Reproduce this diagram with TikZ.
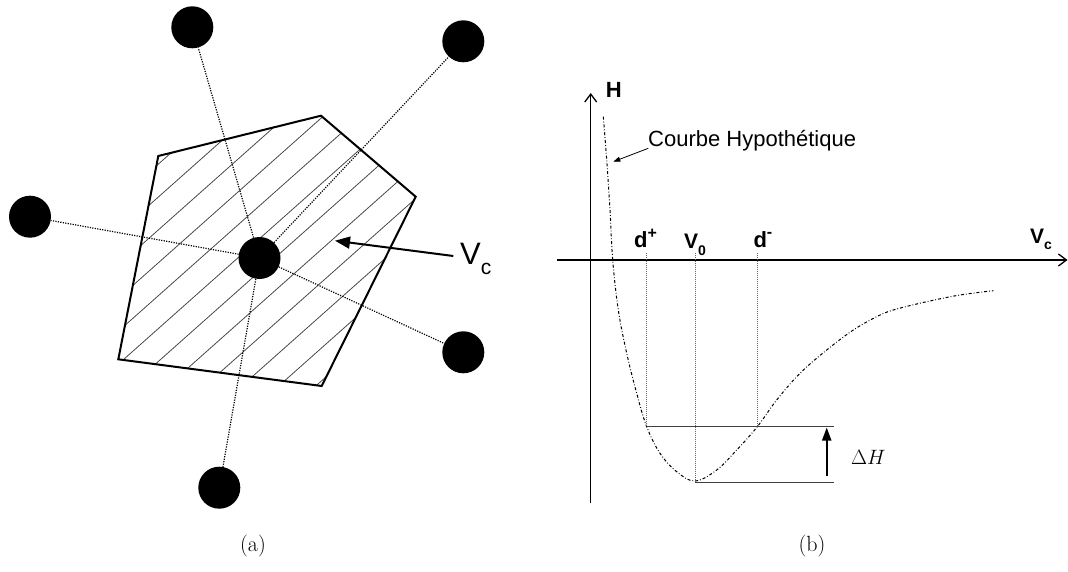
\documentclass[tikz,border=0pt]{standalone}
\usepackage{fontspec}
\newfontfamily\arial{Liberation Sans}
\usetikzlibrary{arrows.meta}
\begin{document}
\begin{tikzpicture}[x=1pt,y=-1pt,
  site/.style={circle,fill=black,minimum size=42pt,inner sep=0pt},
  bond/.style={dash pattern=on 1.2pt off 1.3pt,line width=1.2pt},
  cell/.style={line width=2pt,line join=miter},
  hatch/.style={line width=0.8pt,black!70},
  axis/.style={line width=1.3pt},
  curve/.style={line width=1pt,dash pattern=on 3pt off 2pt on 0.8pt off 2pt},
  level/.style={line width=1.3pt,black!75},
  guide/.style={line width=0.8pt,black!60,dash pattern=on 1pt off 1pt},
  lbl/.style={inner sep=0pt,anchor=base west}]
\useasboundingbox (0,0) rectangle (1068,572);

% ---------- (a) ----------
\begin{scope}
\clip (158.3,156) -- (321,115.7) -- (415.7,196.7) -- (321.7,386) -- (118.3,359.3) -- cycle;
\foreach \c in {343,380,...,760} \draw[hatch] (\c,0) -- ({\c-562.5},500);
\end{scope}
\draw[cell] (158.3,156) -- (321,115.7) -- (415.7,196.7) -- (321.7,386) -- (118.3,359.3) -- cycle;

\node[site] (c)  at (259.5,258) {};
\node[site] (tl) at (192.3,27.3) {};
\node[site] (tr) at (463.3,41.3) {};
\node[site] (l)  at (30,216.7) {};
\node[site] (r)  at (463.3,352.3) {};
\node[site] (b)  at (219.3,487.7) {};
\foreach \o in {tl,tr,l,r,b} \draw[bond] (c) -- (\o);

\node[lbl] (vc) at (460,264) {\arial\fontsize{31}{31}\selectfont V\raisebox{-10pt}{\fontsize{21}{21}\selectfont c}};
\coordinate (vctail) at (453.3,256);
\coordinate (vctip) at (335,240.7);
\draw[line width=2pt,-{Triangle[length=15pt,width=12pt]}] (vctail) -- (vctip);

\node (capa) at (253,546) {\fontsize{22}{22}\selectfont (a)};

% ---------- (b) ----------
\coordinate (ybot) at (590.7,503);
\coordinate (ytop) at (590.7,93);
\coordinate (xleft) at (557,260);
\coordinate (xright) at (1067.5,260);
\draw[axis,-{Straight Barb[length=8pt,width=12pt]}] (ybot) -- (ytop);
\draw[axis,-{Straight Barb[length=8pt,width=12pt]}] (xleft) -- (xright);

\draw[curve] plot[smooth,tension=0.6] coordinates {
 (603.3,116.7) (606.7,160) (610,210) (612.7,260) (618.3,310) (626.7,353.3)
 (636.7,393.3) (646.7,426.7) (660,453.3) (676.7,471.7) (695,481)
 (716.7,470) (736.7,450) (757.3,426.7) (776.7,400) (800,373.3) (826.7,350)
 (853.3,330) (876.7,316.7) (893.3,310) (926.7,301.7) (960,295) (993.3,290.7)};

\coordinate (dp) at (646.7,426.7);
\coordinate (dm) at (757.3,426.7);
\coordinate (v0) at (695,482.3);
\coordinate (hiend) at (834,426.7);
\coordinate (loend) at (834,482.3);
\draw[level] (dp) -- (hiend);
\draw[level] (v0) -- (loend);
\draw[guide] (646.7,253) -- (dp);
\draw[guide] (695,253) -- (v0);
\draw[guide] (757.3,253) -- (dm);

\coordinate (dhbot) at (826.7,476);
\coordinate (dhtop) at (826.7,427.5);
\draw[line width=2pt,-{Triangle[length=13pt,width=9pt]}] (dhbot) -- (dhtop);
\node[lbl] (dh) at (851,464) {\fontsize{20}{20}\selectfont$\Delta H$};

\node[lbl] (hl) at (605.7,97.3) {\arial\bfseries\fontsize{22}{22}\selectfont H};
\node[lbl] (courbe) at (648,147) {\arial\fontsize{22}{22}\selectfont Courbe Hypoth\'etique};
\coordinate (cfrom) at (648.3,148.3);
\coordinate (cto) at (613.3,161.7);
\draw[line width=0.8pt,-{Triangle[length=7pt,width=5pt]}] (cfrom) -- (cto);

\node[lbl] (dpl) at (634,247.3) {\arial\bfseries\fontsize{22}{22}\selectfont d\raisebox{8.7pt}{\fontsize{16}{16}\selectfont +}};
\node[lbl] (v0l) at (684,248.3) {\arial\bfseries\fontsize{21}{21}\selectfont V\raisebox{-6.7pt}{\fontsize{14}{14}\selectfont 0}};
\node[lbl] (dml) at (753.3,247.3) {\arial\bfseries\fontsize{22}{22}\selectfont d\raisebox{9.5pt}{\fontsize{16}{16}\selectfont -}};
\node[lbl] (vcl) at (1030,243.3) {\arial\bfseries\fontsize{21}{21}\selectfont V\raisebox{-6pt}{\fontsize{14}{14}\selectfont c}};

\node (capb) at (812,546) {\fontsize{22}{22}\selectfont (b)};
\end{tikzpicture}
\end{document}
